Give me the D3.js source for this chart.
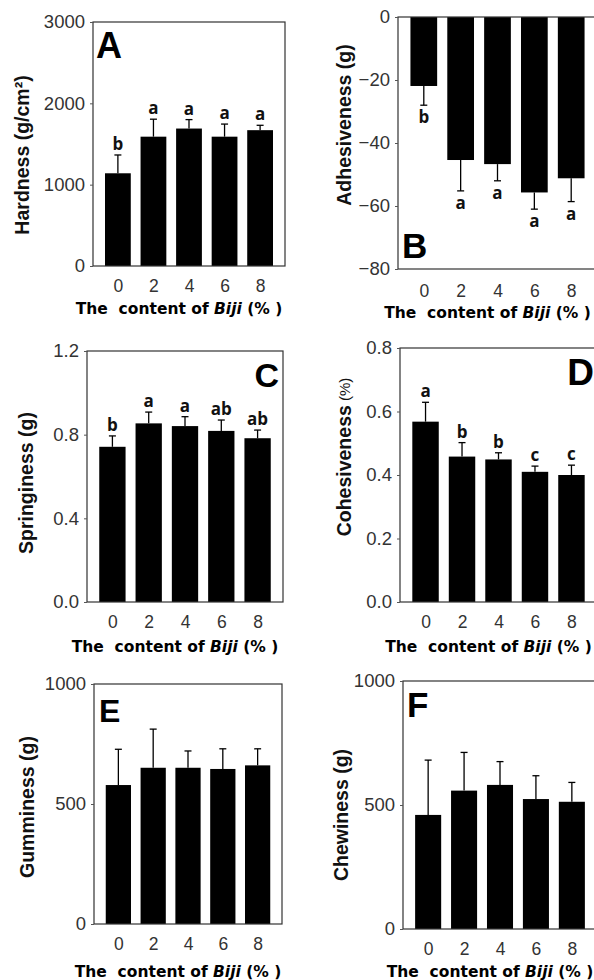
<!DOCTYPE html>
<html>
<head>
<meta charset="utf-8">
<script src="https://cdn.jsdelivr.net/npm/d3@7"></script>
<style>
html,body{margin:0;padding:0;background:#fff;}
svg{display:block;}
text{white-space:pre;}
</style>
</head>
<body>
<svg id="chart" width="594" height="980"></svg>
<script>
// ---------- data ----------
const categories = [0, 2, 4, 6, 8];

const hardnessMean = [1140, 1590, 1690, 1590, 1670];
const hardnessSD = [225, 215, 110, 155, 60];
const hardnessLetters = ["b", "a", "a", "a", "a"];
const hardnessTicks = [0, 1000, 2000, 3000];

const adhesivenessMean = [-21.9, -45.4, -46.7, -55.7, -51.2];
const adhesivenessSD = [6.1, 9.8, 5.3, 5.3, 7.4];
const adhesivenessLetters = ["b", "a", "a", "a", "a"];
const adhesivenessTicks = [0, -20, -40, -60, -80];

const springinessMean = [0.742, 0.854, 0.841, 0.818, 0.783];
const springinessSD = [0.052, 0.054, 0.045, 0.052, 0.039];
const springinessLetters = ["b", "a", "a", "ab", "ab"];
const springinessTicks = [0, 0.4, 0.8, 1.2];

const cohesivenessMean = [0.568, 0.458, 0.449, 0.410, 0.400];
const cohesivenessSD = [0.061, 0.044, 0.021, 0.018, 0.031];
const cohesivenessLetters = ["a", "b", "b", "c", "c"];
const cohesivenessTicks = [0, 0.2, 0.4, 0.6, 0.8];

const gumminessMean = [579, 651, 651, 646, 661];
const gumminessSD = [149, 161, 70, 84, 69];
const gumminessTicks = [0, 500, 1000];

const chewinessMean = [460, 558, 581, 524, 513];
const chewinessSD = [221, 154, 94, 94, 78];
const chewinessTicks = [0, 500, 1000];

// ---------- panel definitions ----------
const panels = [
  {id:"A", ytitle:["Hardness (g/cm²)"], mean:hardnessMean, sd:hardnessSD, letters:hardnessLetters, ticks:hardnessTicks, fmt:d3.format("d"), ydom:[0,3000]},
  {id:"B", ytitle:["Adhesiveness (g)"], mean:adhesivenessMean, sd:adhesivenessSD, letters:adhesivenessLetters, ticks:adhesivenessTicks, fmt:d3.format("d"), ydom:[-80,0]},
  {id:"C", ytitle:["Springiness (g)"], mean:springinessMean, sd:springinessSD, letters:springinessLetters, ticks:springinessTicks, fmt:d3.format(".1f"), ydom:[0,1.2]},
  {id:"D", ytitle:["Cohesiveness", " (%)"], mean:cohesivenessMean, sd:cohesivenessSD, letters:cohesivenessLetters, ticks:cohesivenessTicks, fmt:d3.format(".1f"), ydom:[0,0.8]},
  {id:"E", ytitle:["Gumminess (g)"], mean:gumminessMean, sd:gumminessSD, letters:null, ticks:gumminessTicks, fmt:d3.format("d"), ydom:[0,1000]},
  {id:"F", ytitle:["Chewiness (g)"], mean:chewinessMean, sd:chewinessSD, letters:null, ticks:chewinessTicks, fmt:d3.format("d"), ydom:[0,1000]}
];

// ---------- layout ----------
const layouts = {
  A:{l:93, r:285, t:22, b:266, yt:[22,155], xtY:292, ttlY:314, lab:{x:96, y:58, s:36, anchor:"start"}},
  B:{l:398, r:597, t:17, b:269, yt:[344,125], xtY:297, ttlY:318, lab:{x:402, y:258, s:35, anchor:"start"}},
  C:{l:87, r:283, t:351, b:602, yt:[26,483], xtY:628, ttlY:652, lab:{x:279, y:387, s:34, anchor:"end"}},
  D:{l:400, r:597, t:348, b:602, yt:[344,457], xtY:628, ttlY:652, lab:{x:594, y:385, s:37, anchor:"end"}},
  E:{l:94, r:282, t:684, b:924, yt:[27,807], xtY:950, ttlY:977, lab:{x:99, y:722, s:32, anchor:"start"}},
  F:{l:403, r:597, t:681, b:929, yt:[341,815], xtY:955, ttlY:977, lab:{x:407, y:717, s:35, anchor:"start"}}
};

const svg = d3.select("#chart");
const tickFont = "'Liberation Sans', Arial, sans-serif";

panels.forEach(p => {
  const L = layouts[p.id];
  const g = svg.append("g");
  const x = d3.scaleLinear().domain([-1.4, 9.4]).range([L.l, L.r]);
  const y = d3.scaleLinear().domain(p.ydom).range([L.b, L.t]);
  const bw = x(1.45) - x(0);
  const neg = p.ydom[1] <= 0;

  // bars
  g.selectAll("rect.bar").data(categories).join("rect")
    .attr("x", (c) => x(c) - bw/2)
    .attr("width", bw)
    .attr("y", (c,i) => Math.min(y(p.mean[i]), y(0)))
    .attr("height", (c,i) => Math.abs(y(p.mean[i]) - y(0)))
    .attr("fill", "#000");

  // error bars
  const eb = g.selectAll("g.err").data(categories).join("g");
  eb.append("line")
    .attr("x1", c => x(c)).attr("x2", c => x(c))
    .attr("y1", (c,i) => y(p.mean[i]))
    .attr("y2", (c,i) => y(p.mean[i] + (neg ? -p.sd[i] : p.sd[i])))
    .attr("stroke", "#000").attr("stroke-width", 1.3);
  eb.append("line")
    .attr("x1", c => x(c) - 3.5).attr("x2", c => x(c) + 3.5)
    .attr("y1", (c,i) => y(p.mean[i] + (neg ? -p.sd[i] : p.sd[i])))
    .attr("y2", (c,i) => y(p.mean[i] + (neg ? -p.sd[i] : p.sd[i])))
    .attr("stroke", "#000").attr("stroke-width", 1.3);

  // letters
  if (p.letters) {
    g.selectAll("text.let").data(categories).join("text")
      .attr("x", c => x(c))
      .attr("y", (c,i) => {
        const e = y(p.mean[i] + (neg ? -p.sd[i] : p.sd[i]));
        return neg ? e + 18 : e - 5;
      })
      .attr("text-anchor", "middle")
      .attr("font-family", "'Open Sans', Arial, sans-serif")
      .attr("font-weight", "bold")
      .attr("font-size", 17)
      .attr("fill", "#111")
      .text((c,i) => p.letters[i]);
  }

  // frame
  g.append("rect")
    .attr("x", L.l).attr("y", L.t)
    .attr("width", L.r - L.l).attr("height", L.b - L.t)
    .attr("fill", "none").attr("stroke", "#333").attr("stroke-width", 1.2);

  // y axis
  const ya = d3.axisLeft(y).tickValues(p.ticks).tickFormat(p.fmt).tickSize(3).tickPadding(5);
  const yg = g.append("g").attr("transform", `translate(${L.l},0)`).call(ya);
  yg.select(".domain").remove();
  yg.selectAll("line").attr("stroke", "#555");
  yg.selectAll("text").attr("font-family", tickFont).attr("font-size", 18.5).attr("fill", "#333");

  // x axis labels
  const xa = d3.axisBottom(x).tickValues(categories).tickFormat(d3.format("d")).tickSize(0).tickPadding(0);
  const xg = g.append("g").attr("transform", `translate(0,${L.b})`).call(xa);
  xg.select(".domain").remove();
  xg.selectAll("text").attr("dy", null).attr("y", L.xtY - L.b)
    .attr("font-family", tickFont).attr("font-size", 17.5).attr("fill", "#333");

  // x title
  const xm = (x(categories[0]) + x(categories[categories.length-1]))/2 - 10;
  const t = g.append("text").attr("x", xm).attr("y", L.ttlY)
    .attr("text-anchor", "middle")
    .attr("font-family", "'DejaVu Sans', Verdana, sans-serif")
    .attr("font-weight", "bold").attr("font-size", 15.5).attr("fill", "#000");
  t.append("tspan").text("The  content of ");
  t.append("tspan").attr("font-style", "italic").text("Biji");
  t.append("tspan").text(" (% )");

  // y title
  const yt = g.append("text")
    .attr("transform", `translate(${L.yt[0]},${L.yt[1]}) rotate(-90)`)
    .attr("text-anchor", "middle").attr("dominant-baseline", "central")
    .attr("font-family", "'Liberation Sans', Arial, sans-serif")
    .attr("font-weight", "bold").attr("font-size", 19.5).attr("fill", "#111");
  yt.append("tspan").text(p.ytitle[0]);
  if (p.ytitle[1]) yt.append("tspan").attr("font-size", 15).attr("font-weight", "normal").text(p.ytitle[1]);

  // panel label
  g.append("text").attr("x", L.lab.x).attr("y", L.lab.y)
    .attr("text-anchor", L.lab.anchor)
    .attr("font-family", "'Liberation Sans', Arial, sans-serif")
    .attr("font-weight", "bold").attr("font-size", L.lab.s).attr("fill", "#000")
    .text(p.id);
});
</script>
</body>
</html>
